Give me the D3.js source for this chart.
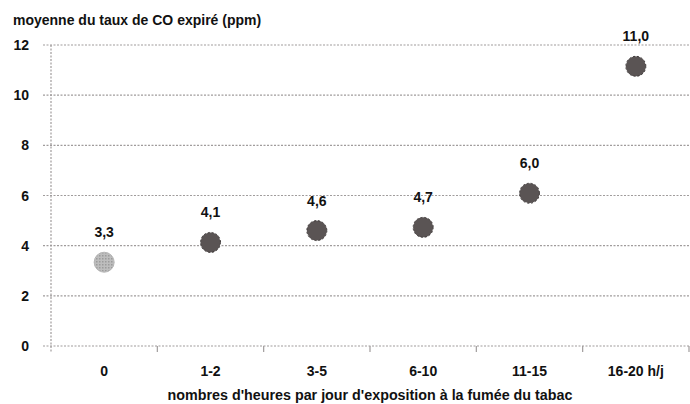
<!DOCTYPE html>
<html><head><meta charset="utf-8">
<script src="https://cdn.jsdelivr.net/npm/d3@7"></script>
<style>
body{margin:0;background:#fff;}
text{font-family:"Liberation Sans",Arial,sans-serif;font-weight:bold;fill:#111;}
</style></head>
<body><svg id="c" width="690" height="404"></svg>
<script>
const categories = ["0","1-2","3-5","6-10","11-15","16-20 h/j"];
const values = [3.34, 4.13, 4.6, 4.73, 6.09, 11.15];
const valueLabels = ["3,3","4,1","4,6","4,7","6,0","11,0"];
const yTicks = [0,2,4,6,8,10,12];
const yTitle = "moyenne du taux de CO expiré (ppm)";
const xTitle = "nombres d'heures par jour d'exposition à la fumée du tabac";

const svg = d3.select("#c");
const mLeft = 51, mRight = 689, mTop = 45, mBottom = 346;
const x = d3.scaleBand().domain(categories).range([mLeft, mRight]);
const y = d3.scaleLinear().domain([0,12]).range([mBottom, mTop]);

// gridlines
svg.append("g").selectAll("line").data(yTicks).join("line")
  .attr("x1", mLeft-8).attr("x2", mRight)
  .attr("y1", d=>y(d)).attr("y2", d=>y(d))
  .attr("stroke","#a09c9c").attr("stroke-width",1.2).attr("stroke-dasharray","2,1.5");

// y axis line
svg.append("line").attr("x1",mLeft).attr("x2",mLeft).attr("y1",mTop).attr("y2",mBottom+6)
  .attr("stroke","#a09c9c").attr("stroke-width",1.2).attr("stroke-dasharray","2,1.5");

// x ticks at band boundaries
const bounds = categories.map(c=>x(c)).concat([mRight]);
svg.append("g").selectAll("line").data(bounds.slice(1)).join("line")
  .attr("x1",d=>d).attr("x2",d=>d).attr("y1",mBottom).attr("y2",mBottom+6)
  .attr("stroke","#a09c9c").attr("stroke-width",1.2);

// y tick labels
svg.append("g").selectAll("text").data(yTicks).join("text")
  .attr("x", 29).attr("y", d=>y(d)+5).attr("text-anchor","end")
  .attr("font-size",14).text(d=>d);

// x tick labels
svg.append("g").selectAll("text").data(categories).join("text")
  .attr("x", d=>x(d)+x.bandwidth()/2).attr("y", 376).attr("text-anchor","middle")
  .attr("font-size",14).text(d=>d);

// titles
svg.append("text").attr("x",13).attr("y",25).attr("font-size",14).text(yTitle);
svg.append("text").attr("x",370).attr("y",400).attr("text-anchor","middle").attr("font-size",14.3).text(xTitle);

// pattern for first dot
const defs = svg.append("defs");
const p = defs.append("pattern").attr("id","hatch").attr("width",3).attr("height",3).attr("patternUnits","userSpaceOnUse");
p.append("rect").attr("width",3).attr("height",3).attr("fill","#bdbdbd");
p.append("rect").attr("width",1.5).attr("height",1.5).attr("fill","#9b9b9b");

// dots
svg.append("g").selectAll("circle").data(values).join("circle")
  .attr("cx",(d,i)=>x(categories[i])+x.bandwidth()/2)
  .attr("cy",d=>y(d)).attr("r",10)
  .attr("fill",(d,i)=> i===0 ? "url(#hatch)" : "#5a5454")
  .attr("stroke",(d,i)=> i===0 ? "#b5b5b5" : "#3a3535")
  .attr("stroke-width",1).attr("stroke-dasharray",(d,i)=> i===0 ? null : "2,2");

// value labels
svg.append("g").selectAll("text").data(values).join("text")
  .attr("x",(d,i)=>x(categories[i])+x.bandwidth()/2)
  .attr("y",d=>y(d)-25).attr("text-anchor","middle").attr("font-size",14)
  .text((d,i)=>valueLabels[i]);
</script></body></html>
